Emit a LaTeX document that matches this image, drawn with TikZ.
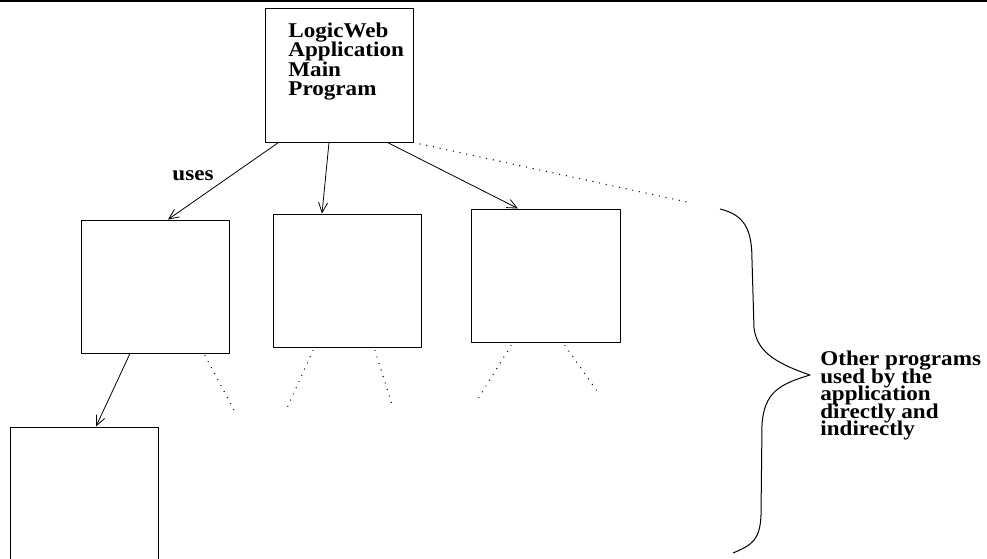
\documentclass[tikz,border=0pt]{standalone}
\usepackage{fontspec}
\setmainfont{Liberation Serif}[FakeStretch=1.1]
\usetikzlibrary{arrows.meta}

% bold, closely set lines
\newcommand\labelfont{\bfseries\fontsize{10.5}{8.75}\selectfont\lineskiplimit-20pt\relax}

\begin{document}
\begin{tikzpicture}[x=0.5pt, y=-0.5pt, font=\labelfont, line join=round,
    box/.style={draw, line width=0.5pt, minimum width=74pt, minimum height=66.5pt, inner sep=0pt},
    txt/.style={align=left, inner sep=0pt, anchor=north west},
    uses/.style={-{Straight Barb[length=5pt, width=4.5pt]}, line width=0.4pt},
    dots/.style={line width=0.7pt, line cap=round, dash pattern=on 0pt off 3.4pt}]
    \useasboundingbox (0,0) rectangle (987,558);
    \clip (0,0) rectangle (987,558);
    \draw[line width=1.25pt] (0,1) -- (987,1);
    % main program and the programs it calls
    \node[box, minimum height=67pt] (main) at (339,75) {};
    \node[txt, font=\labelfont\baselineskip9.7pt] (mainlbl) at (288,22.5) {LogicWeb\\Application\\Main\\Program};
    \node[box] (progA) at (155,286.5) {};
    \node[box] (progB) at (347,280.5) {};
    \node[box, minimum width=74.5pt] (progC) at (545.5,275.5) {};
    \node[box] (progD) at (84,493.5) {};
    \draw[uses] ([xshift=7pt]main.south west) -- ([xshift=6.5pt]progA.north);
    \draw[uses] ([xshift=-5pt]main.south) -- ([xshift=-12.5pt]progB.north);
    \draw[uses] ([xshift=-13pt]main.south east) -- ([xshift=-13.75pt]progC.north);
    \draw[uses] ([xshift=-12.5pt]progA.south) -- ([xshift=6pt]progD.north);
    \node (useslbl) at (193,176) {uses};
    % dotted stubs: more programs further down
    \coordinate (more) at (687,202);
    \coordinate (a1) at (235,412);
    \coordinate (b1) at (287,408);
    \coordinate (b2) at (393,408);
    \coordinate (c1) at (478,399);
    \coordinate (c2) at (597,391);
    \draw[dots] (main.south east) -- (more);
    \draw[dots] ([xshift=25pt,yshift=-1pt]progA.south) -- (a1);
    \draw[dots] ([xshift=-17pt,yshift=-1.5pt]progB.south) -- (b1);
    \draw[dots] ([xshift=14pt,yshift=-1.5pt]progB.south) -- (b2);
    \draw[dots] ([xshift=-17.25pt,yshift=-1.5pt]progC.south) -- (c1);
    \draw[dots] ([xshift=9.75pt,yshift=-1.5pt]progC.south) -- (c2);
    % brace
    \draw[line width=0.5pt] (720,209) .. controls (745,215) and (752,230) .. (752,260) -- (754,328)
        .. controls (757,350) and (772,362) .. (810,375)
        .. controls (780,384) and (764,392) .. (762,425) -- (761,515)
        .. controls (760,540) and (752,545) .. (733,553);
    \node[txt] (otherlbl) at (820,351) {Other programs\\used by the\\application\\directly and\\indirectly};
\end{tikzpicture}
\end{document}
